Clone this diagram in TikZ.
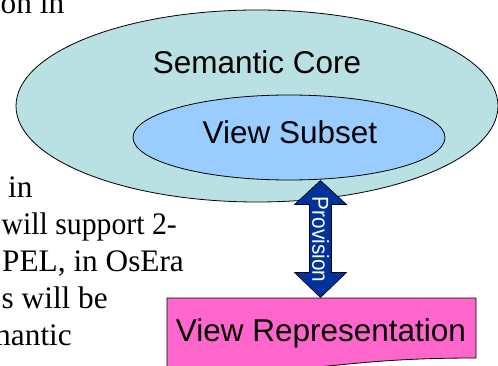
\documentclass[tikz,border=0pt]{standalone}
\usepackage{fontspec}
\setmainfont{Liberation Serif}
\newfontfamily\arialfont{Liberation Sans}
\usetikzlibrary{shapes.geometric}
\definecolor{coreteal}{RGB}{185,224,226}
\definecolor{subsetblue}{RGB}{153,204,255}
\definecolor{reppink}{RGB}{255,102,204}
\definecolor{arrowblue}{RGB}{0,51,153}
\tikzset{
  blob/.style={ellipse, draw=black, line width=0.8pt, inner sep=0pt},
  biglabel/.style={font=\arialfont\fontsize{31.5}{36}\selectfont, inner sep=0pt, anchor=base},
  bodytext/.style={font=\fontsize{31.3}{36}\selectfont, inner sep=0pt},
}
\begin{document}
\begin{tikzpicture}[x=1pt,y=-1pt]
\useasboundingbox (0,0) rectangle (498,366);
\clip (0,0) rectangle (498,366);
% left text fragments
\node[bodytext, anchor=base west] (t1) at (0.5,14) {on in};
\node[bodytext, anchor=base west] (t2) at (8,198) {in};
\node[bodytext, anchor=base west] (t3) at (1.5,235) {\scalebox{0.95}[1]{will support 2-}};
\node[bodytext, anchor=base west] (t4) at (2,272) {PEL, in OsEra};
\node[bodytext, anchor=base west] (t5) at (1.5,308) {s will be};
\node[bodytext, anchor=base east] (t6) at (72,345) {mantic};
% ellipses
\node[blob, fill=coreteal, minimum width=482pt, minimum height=192pt] (core) at (257,106) {};
\node[blob, fill=subsetblue, minimum width=312pt, minimum height=85pt] (subset) at (289,137.5) {};
\node[biglabel] (coretext) at (257,73.3) {Semantic Core};
\node[biglabel] (subsettext) at (290,143.3) {View Subset};
% document shape
\draw[fill=reppink, line width=0.8pt] (167,298) -- (476,298) -- (476,358)
  .. controls (321.5,358) and (321.5,378) .. (167,367) -- cycle;
\node[biglabel] (reptext) at (321,341.7) {View Representation};
% double block arrow
\draw[fill=arrowblue, line width=0.6pt, line join=miter]
  (320.5,180.5) -- (346.5,204.5) -- (331.5,204.5) -- (331.5,272.5) -- (346.5,272.5)
  -- (320.5,297.5) -- (294.5,272.5) -- (309.5,272.5) -- (309.5,204.5) -- (294.5,204.5) -- cycle;
\node[rotate=-90, text=white, inner sep=0pt, font=\arialfont\fontsize{23}{26}\selectfont] (prov) at (320.5,239.5) {\scalebox{0.9}[1]{Provision}};
\end{tikzpicture}
\end{document}
